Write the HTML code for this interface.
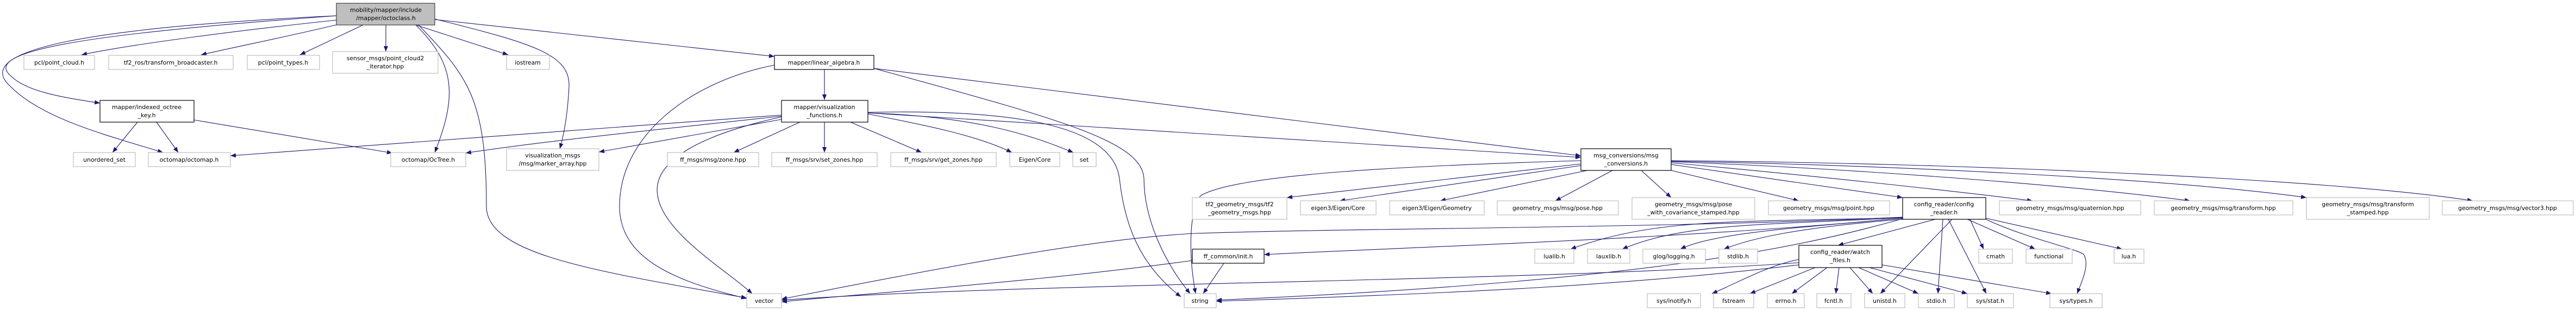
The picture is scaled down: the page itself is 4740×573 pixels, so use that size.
<!DOCTYPE html>
<html><head><meta charset="utf-8"><style>
html,body{margin:0;padding:0;background:#fff;}
svg{display:block;}
text{font-family:"DejaVu Sans","Liberation Sans",sans-serif;font-size:10.8px;fill:#000;text-anchor:middle;}
.e{fill:none;stroke:#191970;stroke-width:1.1;marker-end:url(#a);}
.g{fill:#fff;stroke:#bfbfbf;stroke-width:1.2;}
.b{fill:#fff;stroke:#000;stroke-width:1.2;}
</style></head><body>
<svg width="4740" height="573" viewBox="0 0 4740 573" xmlns="http://www.w3.org/2000/svg">
<defs><marker id="a" markerWidth="10" markerHeight="8" refX="10" refY="4" orient="auto" markerUnits="userSpaceOnUse"><path d="M0,0L10,4L0,8z" fill="#191970"/></marker></defs>

<path class="e" d="M619,37 C450,55 250,80 150,101"/>
<path class="e" d="M622,45 C540,65 440,85 370,101"/>
<path class="e" d="M668,46 L552,101"/>
<path class="e" d="M710,46 L710,95"/>
<path class="e" d="M765,46 L935,101"/>
<path class="e" d="M800,36 L1425,104"/>
<path class="e" d="M619,29 C200,60 -40,90 20,140 C50,170 120,180 184,190"/>
<path class="e" d="M619,29 C180,50 -60,90 20,160 C80,220 200,250 300,281"/>
<path class="e" d="M765,46 C840,120 840,180 800,281"/>
<path class="e" d="M770,46 C860,140 895,180 895,380 C895,470 1100,500 1374,549"/>
<path class="e" d="M800,35 C980,80 1050,100 1047,160 C1045,200 1040,240 1030,274"/>
<path class="e" d="M1517,128 L1517,184"/>
<path class="e" d="M1425,120 C1270,150 1140,250 1140,380 C1140,480 1250,520 1374,550"/>
<path class="e" d="M1608,126 L2909,287"/>
<path class="e" d="M1608,126 C1950,220 2103,260 2105,330 C2105,400 2140,480 2190,541"/>
<path class="e" d="M253,225 L207,281"/>
<path class="e" d="M288,225 L328,281"/>
<path class="e" d="M357,221 L722,282"/>
<path class="e" d="M1438,212 L424,287"/>
<path class="e" d="M1438,214 C1200,240 1000,260 857,282"/>
<path class="e" d="M1438,220 L1102,280"/>
<path class="e" d="M1472,225 L1350,281"/>
<path class="e" d="M1517,225 L1517,281"/>
<path class="e" d="M1440,215 C1280,250 1200,300 1210,360 C1220,430 1340,500 1384,541"/>
<path class="e" d="M1565,225 L1696,281"/>
<path class="e" d="M1597,210 C1700,230 1800,250 1862,281"/>
<path class="e" d="M1597,208 C1800,215 1900,250 1975,281"/>
<path class="e" d="M1597,207 C1900,200 2050,240 2060,330 C2070,420 2100,490 2173,547"/>
<path class="e" d="M1597,208 L2909,290"/>
<path class="e" d="M2909,296 C2600,305 2280,320 2210,360 C2190,380 2185,460 2200,541"/>
<path class="e" d="M2909,302 L2368,364"/>
<path class="e" d="M2909,305 L2465,370"/>
<path class="e" d="M2921,314 L2650,370"/>
<path class="e" d="M2967,314 L2862,370"/>
<path class="e" d="M3020,314 L3075,364"/>
<path class="e" d="M3075,314 L3310,370"/>
<path class="e" d="M3075,303 L3501,364"/>
<path class="e" d="M3075,300 C3300,320 3580,350 3740,370"/>
<path class="e" d="M3075,298 C3400,310 3800,340 4030,370"/>
<path class="e" d="M3075,297 C3500,305 4000,330 4244,364"/>
<path class="e" d="M3075,296 C3600,300 4300,330 4550,370"/>
<path class="e" d="M3501,402 C3100,440 2600,455 2326,469"/>
<path class="e" d="M3501,400 C3100,420 2500,420 2200,430 C2000,440 1700,500 1438,551"/>
<path class="e" d="M3501,403 C3300,460 3000,520 2238,553"/>
<path class="e" d="M3501,401 C3200,410 3050,400 2890,459"/>
<path class="e" d="M3501,401 C3250,415 3100,410 2985,459"/>
<path class="e" d="M3501,402 C3300,420 3150,430 3092,459"/>
<path class="e" d="M3501,404 C3300,420 3220,440 3172,459"/>
<path class="e" d="M3561,404 L3382,452"/>
<path class="e" d="M3625,404 L3650,459"/>
<path class="e" d="M3620,404 L3745,459"/>
<path class="e" d="M3654,402 L3905,459"/>
<path class="e" d="M3592,404 L3460,541"/>
<path class="e" d="M3575,404 L3566,541"/>
<path class="e" d="M3585,404 L3655,541"/>
<path class="e" d="M3654,404 C3730,440 3830,460 3835,470 C3845,490 3830,520 3822,541"/>
<path class="e" d="M3310,484 C2800,520 1900,520 1438,553"/>
<path class="e" d="M3310,488 C3000,525 2700,540 2238,555"/>
<path class="e" d="M3310,478 C3250,490 3200,520 3150,541"/>
<path class="e" d="M3340,493 L3220,541"/>
<path class="e" d="M3362,493 L3297,541"/>
<path class="e" d="M3384,493 L3378,541"/>
<path class="e" d="M3404,493 L3446,541"/>
<path class="e" d="M3420,493 L3530,541"/>
<path class="e" d="M3440,493 L3620,541"/>
<path class="e" d="M3463,488 L3775,541"/>
<path class="e" d="M2194,480 C1900,520 1600,540 1438,556"/>
<path class="e" d="M2252,485 L2214,541"/>

<rect x="619" y="6" width="181" height="40" fill="#bfbfbf" stroke="#404040" stroke-width="1.2"/>
<text x="710" y="22">mobility/mapper/include</text><text x="710" y="37">/mapper/octoclass.h</text>

<rect class="g" x="44" y="102" width="130" height="26"/><text x="109" y="119">pcl/point_cloud.h</text>
<rect class="g" x="200" y="102" width="229" height="26"/><text x="314" y="119">tf2_ros/transform_broadcaster.h</text>
<rect class="g" x="455" y="102" width="133" height="26"/><text x="521" y="119">pcl/point_types.h</text>
<rect class="g" x="612" y="95" width="194" height="40"/><text x="709" y="111">sensor_msgs/point_cloud2</text><text x="709" y="126">_iterator.hpp</text>
<rect class="g" x="932" y="102" width="79" height="26"/><text x="971" y="119">iostream</text>
<rect class="b" x="1425" y="102" width="183" height="26"/><text x="1516" y="119">mapper/linear_algebra.h</text>

<rect class="b" x="184" y="185" width="173" height="40"/><text x="270" y="201">mapper/indexed_octree</text><text x="270" y="216">_key.h</text>
<rect class="b" x="1438" y="185" width="159" height="40"/><text x="1517" y="201">mapper/visualization</text><text x="1517" y="216">_functions.h</text>

<rect class="g" x="135" y="281" width="114" height="26"/><text x="192" y="298">unordered_set</text>
<rect class="g" x="273" y="281" width="151" height="26"/><text x="348" y="298">octomap/octomap.h</text>
<rect class="g" x="719" y="281" width="138" height="26"/><text x="788" y="298">octomap/OcTree.h</text>
<rect class="g" x="932" y="274" width="170" height="40"/><text x="1017" y="290">visualization_msgs</text><text x="1017" y="305">/msg/marker_array.hpp</text>
<rect class="g" x="1228" y="281" width="168" height="26"/><text x="1312" y="298">ff_msgs/msg/zone.hpp</text>
<rect class="g" x="1420" y="281" width="194" height="26"/><text x="1517" y="298">ff_msgs/srv/set_zones.hpp</text>
<rect class="g" x="1639" y="281" width="194" height="26"/><text x="1736" y="298">ff_msgs/srv/get_zones.hpp</text>
<rect class="g" x="1858" y="281" width="92" height="26"/><text x="1904" y="298">Eigen/Core</text>
<rect class="g" x="1974" y="281" width="43" height="26"/><text x="1995" y="298">set</text>
<rect class="b" x="2909" y="274" width="166" height="40"/><text x="2992" y="290">msg_conversions/msg</text><text x="2992" y="305">_conversions.h</text>

<rect class="g" x="2194" y="364" width="174" height="40"/><text x="2281" y="380">tf2_geometry_msgs/tf2</text><text x="2281" y="395">_geometry_msgs.hpp</text>
<rect class="g" x="2393" y="370" width="139" height="26"/><text x="2462" y="387">eigen3/Eigen/Core</text>
<rect class="g" x="2557" y="370" width="174" height="26"/><text x="2644" y="387">eigen3/Eigen/Geometry</text>
<rect class="g" x="2755" y="370" width="223" height="26"/><text x="2866" y="387">geometry_msgs/msg/pose.hpp</text>
<rect class="g" x="3003" y="364" width="226" height="40"/><text x="3116" y="380">geometry_msgs/msg/pose</text><text x="3116" y="395">_with_covariance_stamped.hpp</text>
<rect class="g" x="3254" y="370" width="223" height="26"/><text x="3365" y="387">geometry_msgs/msg/point.hpp</text>
<rect class="b" x="3501" y="364" width="153" height="40"/><text x="3577" y="380">config_reader/config</text><text x="3577" y="395">_reader.h</text>
<rect class="g" x="3679" y="370" width="260" height="26"/><text x="3809" y="387">geometry_msgs/msg/quaternion.hpp</text>
<rect class="g" x="3964" y="370" width="255" height="26"/><text x="4091" y="387">geometry_msgs/msg/transform.hpp</text>
<rect class="g" x="4244" y="364" width="226" height="40"/><text x="4357" y="380">geometry_msgs/msg/transform</text><text x="4357" y="395">_stamped.hpp</text>
<rect class="g" x="4494" y="370" width="241" height="26"/><text x="4614" y="387">geometry_msgs/msg/vector3.hpp</text>

<rect class="b" x="2194" y="459" width="132" height="26"/><text x="2260" y="476">ff_common/init.h</text>
<rect class="g" x="2824" y="459" width="72" height="26"/><text x="2860" y="476">lualib.h</text>
<rect class="g" x="2921" y="459" width="78" height="26"/><text x="2960" y="476">lauxlib.h</text>
<rect class="g" x="3023" y="459" width="115" height="26"/><text x="3080" y="476">glog/logging.h</text>
<rect class="g" x="3163" y="459" width="71" height="26"/><text x="3198" y="476">stdlib.h</text>
<rect class="b" x="3310" y="452" width="153" height="41"/><text x="3386" y="468">config_reader/watch</text><text x="3386" y="483">_files.h</text>
<rect class="g" x="3641" y="459" width="62" height="26"/><text x="3672" y="476">cmath</text>
<rect class="g" x="3728" y="459" width="85" height="26"/><text x="3770" y="476">functional</text>
<rect class="g" x="3890" y="459" width="55" height="26"/><text x="3917" y="476">lua.h</text>

<rect class="g" x="1374" y="541" width="64" height="26"/><text x="1406" y="558">vector</text>
<rect class="g" x="2179" y="541" width="59" height="26"/><text x="2208" y="558">string</text>
<rect class="g" x="3031" y="541" width="98" height="26"/><text x="3080" y="558">sys/inotify.h</text>
<rect class="g" x="3153" y="541" width="74" height="26"/><text x="3190" y="558">fstream</text>
<rect class="g" x="3252" y="541" width="68" height="26"/><text x="3286" y="558">errno.h</text>
<rect class="g" x="3343" y="541" width="63" height="26"/><text x="3374" y="558">fcntl.h</text>
<rect class="g" x="3431" y="541" width="74" height="26"/><text x="3468" y="558">unistd.h</text>
<rect class="g" x="3530" y="541" width="66" height="26"/><text x="3563" y="558">stdio.h</text>
<rect class="g" x="3620" y="541" width="85" height="26"/><text x="3662" y="558">sys/stat.h</text>
<rect class="g" x="3772" y="541" width="96" height="26"/><text x="3820" y="558">sys/types.h</text>
</svg>
</body></html>
